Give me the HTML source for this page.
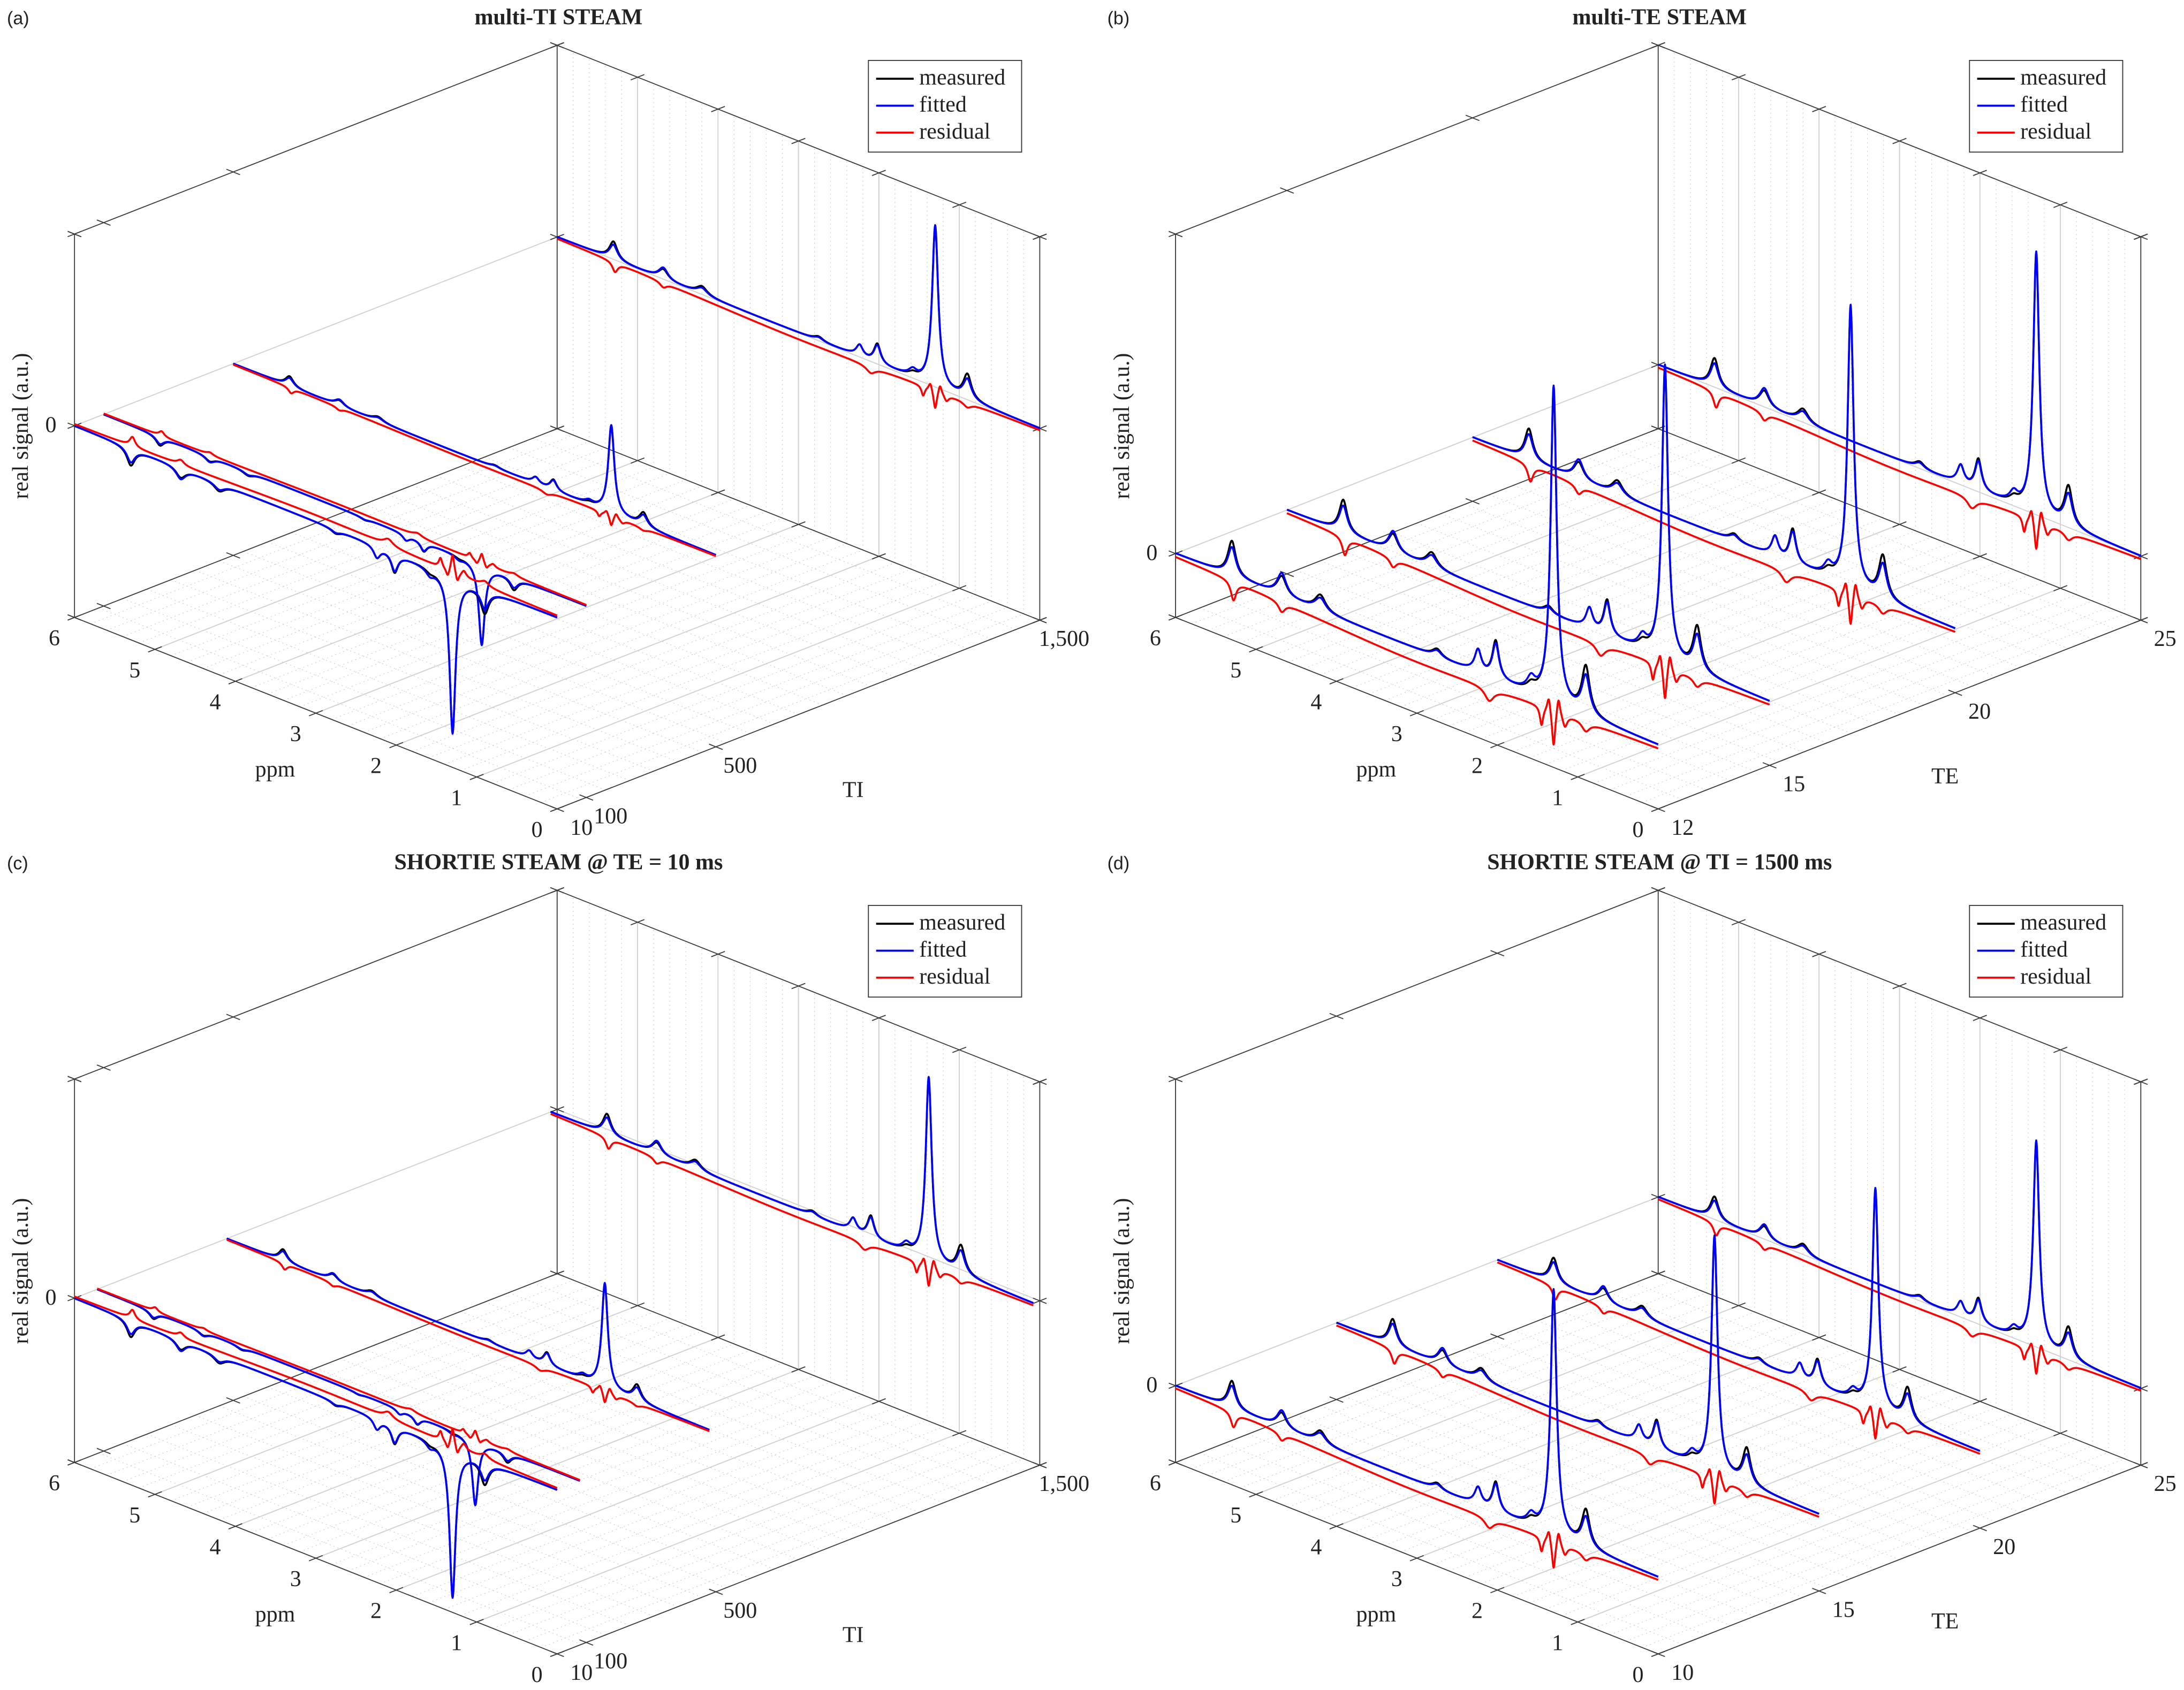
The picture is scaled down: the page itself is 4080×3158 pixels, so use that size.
<!DOCTYPE html>
<html><head><meta charset="utf-8"><title>STEAM spectra</title>
<style>
html,body{margin:0;padding:0;background:#fff;}
svg{display:block;}
text{font-family:"Liberation Serif",serif;fill:#222;}
</style></head>
<body>
<svg id="root" xmlns="http://www.w3.org/2000/svg" width="4080" height="3158" viewBox="0 0 4080 3158">
<rect x="0" y="0" width="4080" height="3158" fill="#fff"/>
</svg>
<script>
// ---------- data ----------
const ppmCenters = [5.3, 4.68, 4.2, 2.75, 2.24, 2.02, 1.58, 1.3, 0.9];
const ppmWidths = [0.06, 0.07, 0.08, 0.07, 0.05, 0.05, 0.06, 0.045, 0.06];
const fittedRel = [0.09, 0.07, 0.04, 0.02, 0.07, 0.11, 0.04, 1.0, 0.12];
const measuredRel = [0.11, 0.06, 0.05, 0.025, 0.07, 0.12, 0.02, 0.99, 0.15];
const residualCenters = [5.28, 4.68, 3.0, 2.1, 1.45, 1.36, 1.3, 1.24, 1.16, 0.9];
const residualWidths = [0.04, 0.05, 1.8, 0.07, 0.025, 0.025, 0.025, 0.025, 0.035, 0.06];
const residualRel = [-0.06, -0.03, -0.04, -0.04, -0.06, 0.05, -0.12, 0.06, -0.04, -0.03];

const tiA = [10, 100, 500, 1500];
const ampA = [-0.82, -0.42, 0.46, 0.84];
const teB = [12, 15, 20, 25];
const ampB = [0.99, 0.92, 0.88, 0.82];
const tiC = [10, 80, 480, 1480];
const ampC = [-0.68, -0.30, 0.48, 0.84];
const teD = [10, 15, 20, 25];
const ampD = [0.80, 0.77, 0.72, 0.67];

const tiTicks = [10, 100, 500, 1500];
const tiTickLabels = ["10", "100", "500", "1,500"];
const teTicksB = [12, 15, 20, 25];
const teTicksD = [10, 15, 20, 25];
const ppmTicks = [6, 5, 4, 3, 2, 1, 0];
const zLimA = [-1, 1];
const zLimB = [-0.2, 1];
const zLimC = [-0.75, 1];
const zLimD = [-0.25, 1];

// ---------- layout ----------
const NS = "http://www.w3.org/2000/svg";
const SX = 1.301, SY = 1.0077;
const FS = 42;
const root = document.getElementById('root');
function el(tag, attrs, parent) {
  const e = document.createElementNS(NS, tag);
  for (const k in attrs) e.setAttribute(k, attrs[k]);
  (parent || root).appendChild(e);
  return e;
}
function lor(p, cs, ws, as) {
  let s = 0;
  for (let i = 0; i < cs.length; i++) { const d = (p - cs[i]) / ws[i]; s += as[i] / (1 + d * d); }
  return s;
}
const mx = x => (x * SX).toFixed(1);
const my = y => (y * SY).toFixed(1);

const panels = [
  {id:'a', ox:0, oy:0, L:107, title:'multi-TI STEAM', xname:'TI', t0:10, t1:1500, cats:tiA, amps:ampA, ticks:tiTicks, tickLabels:tiTickLabels, z:zLimA, letterX:10},
  {id:'b', ox:2040, oy:0, L:120, title:'multi-TE STEAM', xname:'TE', t0:12, t1:25, cats:teB, amps:ampB, ticks:teTicksB, tickLabels:teTicksB.map(String), z:zLimB, letterX:22},
  {id:'c', ox:0, oy:1579, L:107, title:'SHORTIE STEAM @ TE = 10 ms', xname:'TI', t0:10, t1:1500, cats:tiC, amps:ampC, ticks:tiTicks, tickLabels:tiTickLabels, z:zLimC, letterX:10},
  {id:'d', ox:2040, oy:1579, L:120, title:'SHORTIE STEAM @ TI = 1500 ms', xname:'TE', t0:10, t1:25, cats:teD, amps:ampD, ticks:teTicksD, tickLabels:teTicksD.map(String), z:zLimD, letterX:22}
];

panels.forEach(pn => {
  const g = el('g', {transform:`translate(${pn.ox},${pn.oy})`});
  
  
  const P = (ppm, t, z) => {
    const u = (6 - ppm) / 6, v = (t - pn.t0) / (pn.t1 - pn.t0);
    return [pn.L + 693 * (u + v), 1145 + 355 * u - 350 * v - 711 * (z - pn.z[0]) / (pn.z[1] - pn.z[0])];
  };
  const line = (a, b, st, parent, name) => {
    const l = el('line', {x1:mx(a[0]), y1:my(a[1]), x2:mx(b[0]), y2:my(b[1]), stroke:st.c, 'stroke-width':st.w, 'stroke-dasharray':st.d || 'none'}, parent);
    
    
    return l;
  };
  const txt = (x, y, s, attrs, parent, name) => {
    const a = Object.assign({x:mx(x), y:my(y), 'font-size':FS}, attrs || {});
    const t = el('text', a, parent);
    t.textContent = s;
    
    
    return t;
  };
  const zmin = pn.z[0], zmax = pn.z[1];
  const gridG = el('g', {}, g);
  
  
  const minor = {c:'#c8c8c8', w:1.2, d:'2 6'};
  for (let p = 0.2; p < 6; p += 0.2) {
    line(P(p, pn.t0, zmin), P(p, pn.t1, zmin), minor, gridG, 'floor-minor-grid');
    line(P(p, pn.t1, zmin), P(p, pn.t1, zmax), minor, gridG, 'wall-minor-grid');
  }
  for (let k = 1; k < 20; k++) {
    const t = pn.t0 + (pn.t1 - pn.t0) * k / 20;
    line(P(6, t, zmin), P(0, t, zmin), minor, gridG, 'floor-minor-grid');
  }
  const major = {c:'#cfcfcf', w:1.8};
  for (let p = 1; p <= 5; p++) {
    line(P(p, pn.t0, zmin), P(p, pn.t1, zmin), major, gridG, 'floor-major-grid');
    line(P(p, pn.t1, zmin), P(p, pn.t1, zmax), major, gridG, 'wall-major-grid');
  }
  line(P(6, pn.t0, 0), P(6, pn.t1, 0), major, gridG, 'zero-grid-left-wall');
  line(P(6, pn.t1, 0), P(0, pn.t1, 0), major, gridG, 'zero-grid-right-wall');

  const axG = el('g', {}, g);
  
  
  const ax = {c:'#3a3a3a', w:1.8};
  line(P(6, pn.t0, zmin), P(6, pn.t0, zmax), ax, axG, 'z-axis-left');
  line(P(6, pn.t1, zmin), P(6, pn.t1, zmax), ax, axG, 'z-axis-back');
  line(P(0, pn.t1, zmin), P(0, pn.t1, zmax), ax, axG, 'z-axis-right');
  line(P(6, pn.t0, zmax), P(6, pn.t1, zmax), ax, axG, 'top-left-edge');
  line(P(6, pn.t1, zmax), P(0, pn.t1, zmax), ax, axG, 'top-right-edge');
  line(P(6, pn.t0, zmin), P(0, pn.t0, zmin), ax, axG, 'ppm-axis');
  line(P(0, pn.t0, zmin), P(0, pn.t1, zmin), ax, axG, pn.xname.toLowerCase() + '-axis');
  line(P(6, pn.t0, zmin), P(6, pn.t1, zmin), ax, axG, 'floor-back-left-edge');
  line(P(6, pn.t1, zmin), P(0, pn.t1, zmin), ax, axG, 'floor-back-right-edge');
  const tk = 11;
  const tdir = [693 / 776, -350 / 776], pdir = [693 / 780, 355 / 780];
  const tick = (pt, d, name) => line([pt[0] - d[0] * tk, pt[1] - d[1] * tk], [pt[0] + d[0] * tk, pt[1] + d[1] * tk], ax, axG, name);
  ppmTicks.forEach(p => {
    tick(P(p, pn.t0, zmin), tdir, 'ppm-tick');
    tick(P(p, pn.t1, zmin), tdir, 'ppm-tick');
    tick(P(p, pn.t1, zmax), tdir, 'ppm-tick');
  });
  pn.ticks.forEach(t => {
    tick(P(0, t, zmin), pdir, 'x-tick');
    tick(P(6, t, zmin), pdir, 'x-tick');
    tick(P(6, t, zmax), pdir, 'x-tick');
  });
  [zmin, 0, zmax].forEach(z => {
    tick(P(6, pn.t0, z), pdir, 'z-tick');
    tick(P(6, pn.t0, z), tdir, 'z-tick');
    tick(P(0, pn.t1, z), pdir, 'z-tick');
    tick(P(0, pn.t1, z), tdir, 'z-tick');
    tick(P(6, pn.t1, z), pdir, 'z-tick');
    tick(P(6, pn.t1, z), tdir, 'z-tick');
  });
  ppmTicks.forEach(p => {
    const q = P(p, pn.t0, zmin);
    txt(q[0] - 29, q[1] + 52, String(p), {'text-anchor':'middle'}, g, 'ppm-tick-label');
  });
  pn.ticks.forEach((tv, i) => {
    const q = P(0, tv, zmin);
    txt(q[0] + 35, q[1] + 48, pn.tickLabels[i], {'text-anchor':'middle'}, g, pn.xname.toLowerCase() + '-tick-label');
  });
  {
    const q = P(6, pn.t0, 0);
    txt(q[0] - 34, q[1] + 12, '0', {'text-anchor':'middle'}, g, 'z-tick-label');
  }
  const off = pn.L - 107;
  txt(395 + off, 1440, 'ppm', {'text-anchor':'middle'}, g, 'ppm-axis-title');
  txt(1225, pn.xname === 'TI' ? 1478 : 1453, pn.xname, {'text-anchor':'middle'}, g, pn.xname.toLowerCase() + '-axis-title');
  {
    const t = el('text', {x:0, y:0, 'font-size':FS, 'text-anchor':'middle', transform:`translate(${mx(40 + off)},${my(790)}) rotate(-90)`}, g);
    t.textContent = 'real signal (a.u.)';
    
    
  }
  txt(pn.L + 695, 45, pn.title, {'text-anchor':'middle', 'font-weight':'bold'}, g, 'panel-title');
  txt(pn.letterX, 45, '(' + pn.id + ')', {'font-size':34, style:'font-family:"Liberation Sans",sans-serif'}, g, 'panel-letter');

  const specG = el('g', {}, g);
  
  
  const order = pn.cats.map((c, i) => i).sort((a, b) => pn.cats[b] - pn.cats[a]);
  order.forEach(i => {
    const tv = pn.cats[i], A = pn.amps[i];
    const series = [
      {name:'measured', col:'#000', f:p => A * lor(p, ppmCenters, ppmWidths, measuredRel)},
      {name:'fitted', col:'#0000ff', f:p => A * lor(p, ppmCenters, ppmWidths, fittedRel)},
      {name:'residual', col:'#ff0000', f:p => A * lor(p, residualCenters, residualWidths, residualRel)}
    ];
    series.forEach(s => {
      let d = '';
      for (let k = 0; k <= 1200; k++) {
        const p = 6 - k * 0.005;
        const q = P(p, tv, s.f(p));
        d += (k ? 'L' : 'M') + mx(q[0]) + ' ' + my(q[1]);
      }
      const path = el('path', {d:d, fill:'none', stroke:s.col, 'stroke-width':3.6, 'stroke-linejoin':'round'}, specG);
      
      
    });
  });

  const lg = el('g', {}, g);
  
  
  const lx = pn.L + 1140;
  el('rect', {x:mx(lx), y:my(112), width:mx(220), height:my(170), fill:'#fff', stroke:'#333', 'stroke-width':1.8}, lg);
  [['measured', '#000'], ['fitted', '#0000ff'], ['residual', '#ff0000']].forEach((e, i) => {
    const eg = el('g', {}, lg);
    
    
    el('line', {x1:mx(lx + 11), y1:my(146 + 50 * i), x2:mx(lx + 65), y2:my(146 + 50 * i), stroke:e[1], 'stroke-width':3.8}, eg);
    const tt = el('text', {x:mx(lx + 73), y:my(157 + 50 * i), 'font-size':FS}, eg);
    tt.textContent = e[0];
  });
});
</script>
</body></html>
